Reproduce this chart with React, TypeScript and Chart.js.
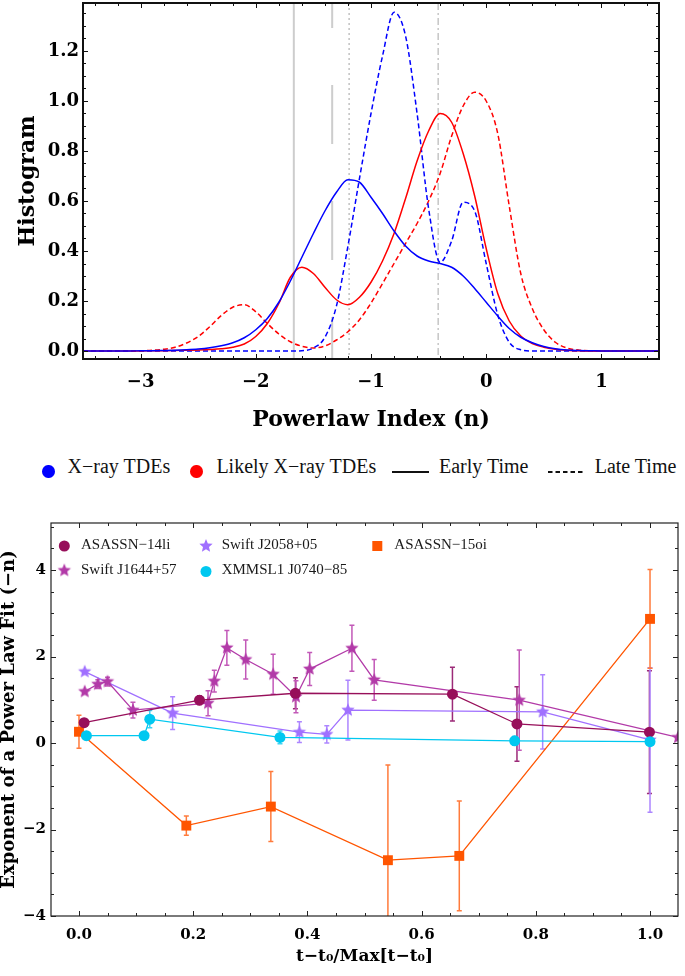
import React, { useEffect, useRef } from 'react';
import { Chart, registerables } from 'chart.js';

Chart.register(...registerables);

// ---------------- Top panel: histogram curves ----------------
const POWERLAW_INDEX = [
  -3.5, -3.4, -3.3, -3.2, -3.1, -3.0, -2.9, -2.8, -2.7, -2.6,
  -2.5, -2.4, -2.3, -2.2, -2.1, -2.0, -1.9, -1.8, -1.7, -1.6,
  -1.5, -1.4, -1.3, -1.2, -1.1, -1.0, -0.9, -0.8, -0.7, -0.6,
  -0.5, -0.4, -0.3, -0.2, -0.1, 0.0, 0.1, 0.2, 0.3, 0.4,
  0.5, 0.6, 0.7, 0.8, 0.9, 1.0, 1.1, 1.2, 1.3, 1.4, 1.5,
];
const XRAY_EARLY = [
  0, 0, 0, 0, 0, 0.001, 0.001, 0.002, 0.003, 0.005,
  0.008, 0.013, 0.021, 0.033, 0.053, 0.085, 0.13, 0.195, 0.28, 0.375,
  0.47, 0.56, 0.635, 0.685, 0.675, 0.615, 0.55, 0.48, 0.42, 0.38,
  0.36, 0.35, 0.335, 0.3, 0.25, 0.195, 0.14, 0.09, 0.055, 0.033,
  0.018, 0.009, 0.004, 0.002, 0.001, 0, 0, 0, 0, 0, 0,
];
const LIKELY_EARLY = [
  0, 0, 0, 0, 0, 0, 0.001, 0.001, 0.002, 0.003,
  0.004, 0.006, 0.009, 0.015, 0.028, 0.058, 0.11, 0.19, 0.295, 0.335,
  0.31, 0.255, 0.205, 0.185, 0.215, 0.275, 0.36, 0.47, 0.61, 0.76,
  0.88, 0.95, 0.915, 0.79, 0.62, 0.41, 0.23, 0.12, 0.06, 0.03,
  0.015, 0.007, 0.003, 0.001, 0, 0, 0, 0, 0, 0, 0,
];
const XRAY_LATE = [
  0, 0, 0, 0, 0, 0, 0, 0, 0, 0,
  0, 0, 0, 0, 0, 0, 0, 0, 0, 0.001,
  0.012, 0.055, 0.18, 0.42, 0.69, 0.95, 1.18, 1.355, 1.26, 0.95,
  0.57, 0.355, 0.44, 0.595, 0.56, 0.35, 0.145, 0.035, 0.005, 0,
  0, 0, 0, 0, 0, 0, 0, 0, 0, 0, 0,
];
const LIKELY_LATE = [
  0, 0, 0, 0, 0, 0.001, 0.003, 0.007, 0.015, 0.032,
  0.058, 0.097, 0.142, 0.175, 0.185, 0.157, 0.11, 0.068, 0.037, 0.019,
  0.012, 0.02, 0.044, 0.077, 0.125, 0.192, 0.27, 0.35, 0.43, 0.51,
  0.6, 0.71, 0.86, 0.98, 1.035, 1.0, 0.87, 0.58, 0.31, 0.17,
  0.085, 0.035, 0.012, 0.004, 0.001, 0, 0, 0, 0, 0, 0,
];
const REF_LINES = [-1.67, -1.337, -1.19, -0.417];
const TOP_X_TICKS = [-3, -2, -1, 0, 1];
const TOP_Y_TICKS = [0, 0.2, 0.4, 0.6, 0.8, 1.0, 1.2];

// ---------------- Bottom panel: power-law exponent vs time ----------------
const T_14LI = [0.009, 0.211, 0.379, 0.654, 0.767, 0.999];
const N_14LI = [0.47, 0.99, 1.15, 1.13, 0.44, 0.25];
const E_14LI = [0, 0.1, 0.36, 0.62, 0.86, 1.42];

const T_J1644 = [0.01, 0.033, 0.05, 0.0945, 0.226, 0.237, 0.259, 0.292, 0.34, 0.38, 0.404, 0.478, 0.517, 0.771, 1.049];
const N_J1644 = [1.19, 1.36, 1.42, 0.76, 0.92, 1.43, 2.2, 1.93, 1.59, 1.07, 1.71, 2.19, 1.46, 0.99, 0.13];
const E_J1644 = [0, 0.1, 0.1, 0.18, 0.29, 0.25, 0.4, 0.45, 0.46, 0.37, 0.38, 0.53, 0.47, 1.16, 0];

const T_J2058 = [0.01, 0.164, 0.386, 0.434, 0.471, 0.812, 1.0];
const N_J2058 = [1.65, 0.69, 0.25, 0.2, 0.76, 0.72, 0.07];
const E_J2058 = [0, 0.38, 0.24, 0.2, 0.69, 0.86, 1.67];

const T_XMM = [0.013, 0.114, 0.124, 0.352, 0.763, 1.0];
const N_XMM = [0.17, 0.17, 0.55, 0.13, 0.05, 0.03];
const E_XMM = [0, 0, 0.2, 0.15, 0.1, 0.08];

const T_15OI = [0.0, 0.188, 0.336, 0.541, 0.666, 1.0];
const N_15OI = [0.26, -1.91, -1.47, -2.71, -2.61, 2.87];
const E_15OI = [0.38, 0.22, 0.81, 2.2, 1.27, 1.14];

const BOT_X_TICKS = [0, 0.2, 0.4, 0.6, 0.8, 1.0];
const BOT_Y_TICKS = [-4, -2, 0, 2, 4];

const C14 = '#970f5a';
const C1644 = '#b23aa8';
const C2058 = '#a070ff';
const CXMM = '#00c8f0';
const C15 = '#ff5500';

const SERIF_BOLD = '"DejaVu Serif", serif';

const fmtMinus = (v: number, digits: number) => {
  const s = Math.abs(v).toFixed(digits);
  return v < -1e-9 ? '\u2212' + s : s;
};

const pts = (xs: number[], ys: number[]) => xs.map((x, i) => ({ x, y: ys[i] }));

function framePlugin(o: {
  id: string; lw: number; color: string;
  xStep: number; xMajor: number; yStep: number; yMajor: number;
  majLen: number; minLen: number;
}) {
  return {
    id: o.id,
    afterDatasetsDraw(chart: any) {
      const { ctx, chartArea: a, scales } = chart;
      const xs = scales.x, ys = scales.y;
      ctx.save();
      ctx.strokeStyle = o.color;
      ctx.lineWidth = 1;
      const isMajor = (v: number, m: number) => Math.abs(v / m - Math.round(v / m)) < 1e-6;
      const k0 = Math.ceil(xs.min / o.xStep - 1e-9), k1 = Math.floor(xs.max / o.xStep + 1e-9);
      ctx.beginPath();
      for (let k = k0; k <= k1; k++) {
        const v = k * o.xStep;
        const len = isMajor(v, o.xMajor) ? o.majLen : o.minLen;
        const px = Math.round(xs.getPixelForValue(v)) + 0.5;
        ctx.moveTo(px, a.bottom); ctx.lineTo(px, a.bottom - len);
        ctx.moveTo(px, a.top); ctx.lineTo(px, a.top + len);
      }
      const j0 = Math.ceil(ys.min / o.yStep - 1e-9), j1 = Math.floor(ys.max / o.yStep + 1e-9);
      for (let j = j0; j <= j1; j++) {
        const v = j * o.yStep;
        const len = isMajor(v, o.yMajor) ? o.majLen : o.minLen;
        const py = Math.round(ys.getPixelForValue(v)) + 0.5;
        ctx.moveTo(a.left, py); ctx.lineTo(a.left + len, py);
        ctx.moveTo(a.right, py); ctx.lineTo(a.right - len, py);
      }
      ctx.stroke();
      ctx.lineWidth = o.lw;
      ctx.strokeRect(a.left, a.top, a.right - a.left, a.bottom - a.top);
      ctx.restore();
    },
  };
}

const errorBarPlugin = {
  id: 'errorBars',
  beforeDatasetsDraw(chart: any) {
    const { ctx, chartArea: a, scales } = chart;
    const xs = scales.x, ys = scales.y;
    ctx.save();
    ctx.beginPath();
    ctx.rect(a.left, a.top, a.right - a.left, a.bottom - a.top);
    ctx.clip();
    chart.data.datasets.forEach((ds: any) => {
      if (!ds.errors) return;
      ctx.strokeStyle = ds.errorColor;
      ctx.lineWidth = 1.5;
      ds.data.forEach((p: any, i: number) => {
        const e = ds.errors[i];
        if (!e) return;
        const px = xs.getPixelForValue(p.x);
        const y1 = ys.getPixelForValue(p.y + e);
        const y2 = ys.getPixelForValue(p.y - e);
        ctx.beginPath();
        ctx.moveTo(px, y1); ctx.lineTo(px, y2);
        ctx.moveTo(px - 2.5, y1); ctx.lineTo(px + 2.5, y1);
        ctx.moveTo(px - 2.5, y2); ctx.lineTo(px + 2.5, y2);
        ctx.stroke();
      });
    });
    ctx.restore();
  },
};

function makeStar(color: string, R: number): HTMLCanvasElement {
  const size = Math.ceil(R * 2 + 2);
  const c = document.createElement('canvas');
  c.width = size; c.height = size;
  const g = c.getContext('2d')!;
  g.fillStyle = color;
  g.beginPath();
  for (let i = 0; i < 10; i++) {
    const r = i % 2 === 0 ? R : R * 0.45;
    const ang = -Math.PI / 2 + (i * Math.PI) / 5;
    g.lineTo(size / 2 + r * Math.cos(ang), size / 2 + r * Math.sin(ang));
  }
  g.closePath();
  g.fill();
  return c;
}

function buildTop(canvas: HTMLCanvasElement) {
  const curve = (label: string, ys: number[], color: string, dashed: boolean) => ({
    label, data: pts(POWERLAW_INDEX, ys), borderColor: color, borderWidth: 1.5,
    borderDash: dashed ? [5, 3] : [], pointRadius: 0, cubicInterpolationMode: 'monotone', fill: false,
  });
  const vline = (x: number, dash: number[], offset: number, width: number, color: string) => ({
    label: 'ref', data: [{ x, y: 1.392 }, { x, y: -0.032 }], borderColor: color, borderWidth: width,
    borderDash: dash, borderDashOffset: offset, pointRadius: 0, fill: false,
  });
  return new Chart(canvas, {
    type: 'line',
    data: {
      datasets: [
        curve('X-ray TDEs early', XRAY_EARLY, '#0000ff', false),
        curve('Likely X-ray TDEs early', LIKELY_EARLY, '#ff0000', false),
        curve('X-ray TDEs late', XRAY_LATE, '#0000ff', true),
        curve('Likely X-ray TDEs late', LIKELY_LATE, '#ff0000', true),
        vline(REF_LINES[0], [], 0, 2, '#cdcdcd'),
        vline(REF_LINES[1], [59, 57], 34, 2, '#cdcdcd'),
        vline(REF_LINES[2], [2, 3], 0, 1.3, '#b8b8b8'),
        vline(REF_LINES[3], [7, 3, 2, 3], 0, 1.3, '#bdbdbd'),
      ] as any,
    },
    options: {
      animation: false,
      responsive: false,
      events: [],
      layout: { padding: { left: 0, right: 26, top: 3, bottom: 0 } },
      plugins: { legend: { display: false }, tooltip: { enabled: false } },
      scales: {
        x: {
          type: 'linear', min: -3.5, max: 1.5,
          afterBuildTicks: (s: any) => { s.ticks = TOP_X_TICKS.map((v) => ({ value: v })); },
          afterFit: (s: any) => { s.height = 81; s.paddingLeft = 0; s.paddingRight = 0; },
          grid: { display: false, drawTicks: false }, border: { display: false },
          ticks: {
            padding: 13, color: '#000', maxRotation: 0, autoSkip: false,
            font: { family: SERIF_BOLD, weight: 'bold', size: 18 },
            callback: (v: any) => fmtMinus(Number(v), 0),
          },
          title: {
            display: true, text: 'Powerlaw Index (n)', color: '#000',
            font: { family: SERIF_BOLD, weight: 'bold', size: 22 }, padding: { top: 0, bottom: 7 },
          },
        },
        y: {
          type: 'linear', min: -0.032, max: 1.392,
          afterBuildTicks: (s: any) => { s.ticks = TOP_Y_TICKS.map((v) => ({ value: v })); },
          afterFit: (s: any) => { s.width = 83; s.paddingTop = 0; s.paddingBottom = 0; },
          grid: { display: false, drawTicks: false }, border: { display: false },
          ticks: {
            padding: 4, color: '#000',
            font: { family: SERIF_BOLD, weight: 'bold', size: 18 },
            callback: (v: any) => Number(v).toFixed(1),
          },
          title: {
            display: true, text: 'Histogram', color: '#000',
            font: { family: SERIF_BOLD, weight: 'bold', size: 22 }, padding: { top: 15, bottom: 0 },
          },
        },
      },
    } as any,
    plugins: [framePlugin({ id: 'frameTop', lw: 2, color: '#111', xStep: 0.2, xMajor: 1, yStep: 0.05, yMajor: 0.2, majLen: 5, minLen: 3 })],
  });
}

function buildBottom(canvas: HTMLCanvasElement) {
  const star1644 = makeStar(C1644, 7);
  const star2058 = makeStar(C2058, 7);
  const series = (label: string, T: number[], N: number[], E: number[], color: string, errColor: string, style: any, radius: number) => ({
    label, data: pts(T, N), errors: E, errorColor: errColor,
    borderColor: color, backgroundColor: color, borderWidth: 1.3,
    pointStyle: style, pointRadius: radius, pointBorderWidth: 0, pointBackgroundColor: color,
    showLine: true, tension: 0, fill: false,
  });
  const legendItems = [
    { marker: 'circle', color: C14, mx: 64.3, my: 46, text: 'ASASSN\u221214li', tx: 81, ty: 48.5 },
    { marker: star1644, color: C1644, mx: 64.3, my: 70.5, text: 'Swift J1644+57', tx: 81, ty: 73.5 },
    { marker: star2058, color: C2058, mx: 206, my: 46, text: 'Swift J2058+05', tx: 221.7, ty: 48.5 },
    { marker: 'circle', color: CXMM, mx: 206, my: 71.5, text: 'XMMSL1 J0740\u221285', tx: 221.7, ty: 73.5 },
    { marker: 'square', color: C15, mx: 377.3, my: 46, text: 'ASASSN\u221215oi', tx: 394.3, ty: 48.5 },
  ];
  const legendPlugin = {
    id: 'boxLegend',
    afterDraw(chart: any) {
      const ctx = chart.ctx;
      ctx.save();
      for (const it of legendItems) {
        ctx.fillStyle = it.color;
        if (it.marker === 'circle') {
          ctx.beginPath(); ctx.arc(it.mx, it.my, 5.5, 0, Math.PI * 2); ctx.fill();
        } else if (it.marker === 'square') {
          ctx.fillRect(it.mx - 5, it.my - 5, 10, 10);
        } else {
          const img = it.marker as HTMLCanvasElement;
          ctx.drawImage(img, it.mx - img.width / 2, it.my - img.height / 2);
        }
        ctx.fillStyle = '#1a1a1a';
        ctx.font = '15px "Liberation Serif", serif';
        ctx.textBaseline = 'alphabetic';
        ctx.textAlign = 'left';
        ctx.fillText(it.text, it.tx, it.ty);
      }
      ctx.restore();
    },
  };
  return new Chart(canvas, {
    type: 'scatter',
    data: {
      datasets: [
        series('XMMSL1 J0740-85', T_XMM, N_XMM, E_XMM, CXMM, '#3fd3f2', 'circle', 5.5),
        series('ASASSN-14li', T_14LI, N_14LI, E_14LI, C14, '#9c2a78', 'circle', 5.5),
        series('Swift J1644+57', T_J1644, N_J1644, E_J1644, C1644, '#c259b8', star1644, 7),
        series('Swift J2058+05', T_J2058, N_J2058, E_J2058, C2058, '#ad86ff', star2058, 7),
        series('ASASSN-15oi', T_15OI, N_15OI, E_15OI, C15, '#ff7b3c', 'rect', 7),
      ] as any,
    },
    options: {
      animation: false,
      responsive: false,
      events: [],
      layout: { padding: { left: 0, right: 2, top: 23, bottom: 0 } },
      plugins: { legend: { display: false }, tooltip: { enabled: false } },
      scales: {
        x: {
          type: 'linear', min: -0.049, max: 1.049,
          afterBuildTicks: (s: any) => { s.ticks = BOT_X_TICKS.map((v) => ({ value: v })); },
          afterFit: (s: any) => { s.height = 60; s.paddingLeft = 0; s.paddingRight = 0; },
          grid: { display: false, drawTicks: false }, border: { display: false },
          ticks: {
            padding: 10, color: '#000', maxRotation: 0, autoSkip: false,
            font: { family: SERIF_BOLD, weight: 'bold', size: 15 },
            callback: (v: any) => Number(v).toFixed(1),
          },
          title: {
            display: true, text: 't\u2212t\u2080/Max[t\u2212t\u2080]', color: '#000',
            font: { family: SERIF_BOLD, weight: 'bold', size: 17 }, padding: { top: 0, bottom: 9 },
          },
        },
        y: {
          type: 'linear', min: -4, max: 5.087,
          afterBuildTicks: (s: any) => { s.ticks = BOT_Y_TICKS.map((v) => ({ value: v })); },
          afterFit: (s: any) => { s.width = 51; s.paddingTop = 0; s.paddingBottom = 0; },
          grid: { display: false, drawTicks: false }, border: { display: false },
          ticks: {
            padding: 5, color: '#000',
            font: { family: SERIF_BOLD, weight: 'bold', size: 15 },
            callback: (v: any) => fmtMinus(Number(v), 0),
          },
          title: {
            display: true, text: 'Exponent of a Power Law Fit (\u2212n)', color: '#000',
            font: { family: SERIF_BOLD, weight: 'bold', size: 18, lineHeight: 1 }, padding: { top: 0.5, bottom: 0 },
          },
        },
      },
    } as any,
    plugins: [
      errorBarPlugin,
      framePlugin({ id: 'frameBot', lw: 1.2, color: '#222', xStep: 0.05, xMajor: 0.2, yStep: 0.5, yMajor: 2, majLen: 5, minLen: 3 }),
      legendPlugin,
    ],
  });
}

const legendText: React.CSSProperties = {
  position: 'absolute', top: 456, fontSize: 20, lineHeight: '20px', whiteSpace: 'nowrap',
  fontFamily: '"Liberation Serif", serif', color: '#111',
};
const dot = (left: number, color: string): React.CSSProperties => ({
  position: 'absolute', left, top: 464.5, width: 12.5, height: 13.5, borderRadius: '50%', background: color,
});

export default function App() {
  const topRef = useRef<HTMLCanvasElement>(null);
  const botRef = useRef<HTMLCanvasElement>(null);
  useEffect(() => {
    const top = buildTop(topRef.current!);
    const bot = buildBottom(botRef.current!);
    return () => { top.destroy(); bot.destroy(); };
  }, []);
  return (
    <div style={{ position: 'absolute', left: 0, top: 0, width: 685, height: 976, background: '#fff', overflow: 'hidden' }}>
      <canvas ref={topRef} width={685} height={440} style={{ position: 'absolute', left: 0, top: 0 }} />
      <div style={dot(42, '#0000ff')} />
      <div style={{ ...legendText, left: 67.6 }}>X{'\u2212'}ray TDEs</div>
      <div style={dot(190, '#ff0000')} />
      <div style={{ ...legendText, left: 216.4 }}>Likely X{'\u2212'}ray TDEs</div>
      <svg style={{ position: 'absolute', left: 392, top: 468 }} width={37} height={8}>
        <line x1={0} y1={4} x2={37} y2={4} stroke="#111" strokeWidth={2} />
      </svg>
      <div style={{ ...legendText, left: 439 }}>Early Time</div>
      <svg style={{ position: 'absolute', left: 547.6, top: 468 }} width={35} height={8}>
        <line x1={0} y1={4} x2={35} y2={4} stroke="#111" strokeWidth={2} strokeDasharray="4.5 3" />
      </svg>
      <div style={{ ...legendText, left: 594.7 }}>Late Time</div>
      <canvas ref={botRef} width={685} height={476} style={{ position: 'absolute', left: 0, top: 500 }} />
    </div>
  );
}
